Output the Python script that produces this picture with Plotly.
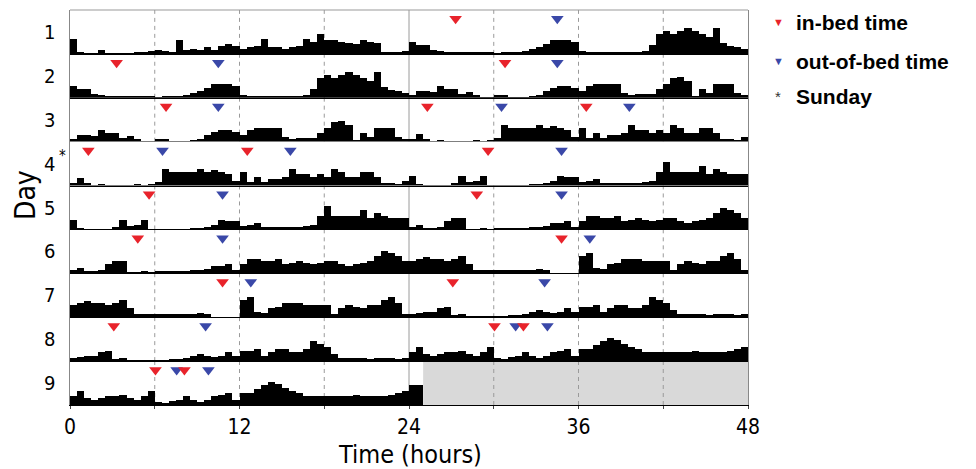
import plotly.graph_objects as go
from plotly.subplots import make_subplots

BIN = 0.5  # hours per activity bin

# Activity counts per 30-min bin (percent of row height)
day1 = [35, 3, 2, 2, 10, 2, 1, 1, 2, 3, 4, 7,
        8, 6, 4, 32, 9, 12, 9, 15, 9, 17, 22, 18,
        12, 15, 18, 35, 15, 15, 12, 15, 18, 35, 28, 45,
        32, 32, 28, 25, 22, 32, 28, 25, 4, 3, 3, 6]
day2 = [26, 20, 20, 10, 7, 3, 5, 3, 5, 5, 5, 3,
        2, 4, 4, 5, 7, 12, 15, 22, 32, 32, 32, 28,
        6, 3, 3, 4, 4, 3, 4, 4, 5, 7, 20, 45,
        52, 45, 52, 58, 52, 45, 38, 58, 25, 18, 15, 12]
day3 = [6, 15, 15, 13, 26, 20, 20, 10, 13, 6, 2, 2,
        7, 6, 2, 2, 2, 3, 7, 15, 22, 28, 28, 22,
        15, 28, 32, 32, 32, 32, 12, 6, 10, 10, 10, 20,
        32, 45, 48, 38, 3, 20, 12, 32, 32, 32, 12, 6]
day4 = [6, 18, 6, 2, 3, 2, 2, 2, 2, 3, 2, 3,
        10, 38, 32, 32, 32, 32, 38, 32, 36, 32, 26, 12,
        32, 10, 20, 10, 15, 15, 20, 38, 28, 26, 20, 28,
        20, 38, 32, 20, 20, 32, 32, 20, 6, 6, 4, 12]
day5 = [22, 3, 2, 2, 2, 2, 6, 22, 10, 12, 22, 2,
        1, 1, 1, 2, 2, 3, 4, 7, 12, 22, 20, 20,
        10, 12, 15, 7, 6, 6, 6, 6, 7, 10, 12, 32,
        55, 32, 32, 32, 32, 45, 26, 38, 32, 26, 26, 26]
day6 = [6, 12, 5, 3, 6, 20, 28, 26, 2, 2, 3, 2,
        3, 3, 3, 4, 4, 6, 6, 10, 15, 15, 20, 6,
        20, 32, 32, 28, 26, 32, 20, 22, 26, 22, 20, 22,
        26, 26, 20, 15, 20, 22, 28, 38, 50, 45, 38, 28]
day7 = [26, 32, 36, 32, 32, 28, 32, 38, 20, 7, 6, 6,
        7, 7, 6, 6, 7, 7, 10, 6, 0, 0, 0, 0,
        38, 45, 12, 10, 20, 22, 32, 32, 32, 28, 26, 26,
        26, 6, 20, 26, 22, 20, 26, 28, 38, 45, 32, 6]
day8 = [6, 10, 12, 12, 20, 22, 3, 6, 2, 1, 2, 1,
        2, 2, 3, 4, 7, 12, 15, 12, 10, 12, 20, 12,
        22, 22, 28, 12, 20, 26, 26, 20, 20, 28, 45, 38,
        32, 15, 6, 6, 7, 6, 5, 6, 7, 7, 5, 6]
day9 = [20, 32, 15, 12, 15, 20, 20, 22, 15, 12, 20, 32,
        6, 5, 10, 12, 20, 12, 6, 12, 20, 22, 26, 12,
        26, 28, 36, 45, 52, 48, 38, 32, 26, 20, 20, 20,
        20, 20, 20, 20, 22, 20, 20, 20, 20, 22, 26, 32]
day10 = [45, 45]  # recording ends shortly after midnight

days = [day1, day2, day3, day4, day5, day6, day7, day8, day9, day10]

in_bed_day = [2, 3, 4, 4, 5, 6, 7, 8, 9, 9]
in_bed_hour = [3.3, 6.8, 1.3, 12.55, 5.6, 4.8, 10.8, 3.1, 6.05, 8.1]
out_bed_day = [2, 3, 4, 4, 5, 6, 7, 8, 9, 9]
out_bed_hour = [10.5, 10.5, 6.55, 15.6, 10.8, 10.8, 12.8, 9.6, 7.55, 9.8]

row_labels = ["1", "2", "3", "4", "5", "6", "7", "8", "9"]
sunday_row = 4
tick_vals = [0, 6, 12, 18, 24, 30, 36, 42, 48]
tick_text = ["0", "", "12", "", "24", "", "36", "", "48"]
dashed_hours = [6, 12, 18, 30, 36, 42]

RED = "#e8232b"
BLUE = "#3a48a8"
NROWS = 9

# page has an 8px body margin: figure sits at (8, 8)
OFF = 8
PL, PR, PT, PB = 70, 748, 10, 405   # plot area in page pixels
W, H = 976 - OFF, 469 - OFF


def px(x):
    return (x - PL) / float(PR - PL)


def py(y):
    return (PB - y) / float(PB - PT)


fig = make_subplots(rows=NROWS, cols=1, shared_xaxes=True, vertical_spacing=0)

for r in range(1, NROWS + 1):
    left = days[r - 1]
    right = days[r]
    xs = [BIN * (i + 0.5) for i in range(len(left))] + [24 + BIN * (i + 0.5) for i in range(len(right))]
    ys = left + right
    fig.add_trace(go.Bar(x=xs, y=ys, width=BIN, marker=dict(color="black", line=dict(width=0)),
                         showlegend=False, hoverinfo="skip"), row=r, col=1)
    for dl, hl, col in [(out_bed_day, out_bed_hour, BLUE), (in_bed_day, in_bed_hour, RED)]:
        mx = [h for d, h in zip(dl, hl) if d == r] + [h + 24 for d, h in zip(dl, hl) if d == r + 1]
        if mx:
            fig.add_trace(go.Scatter(x=mx, y=[80] * len(mx), mode="markers",
                                     marker=dict(symbol="triangle-down", size=11, color=col, line=dict(width=0)),
                                     showlegend=False, hoverinfo="skip"), row=r, col=1)

# grey: no data in the last row
fig.add_shape(type="rect", x0=24 + len(day10) * BIN, x1=48, y0=0, y1=1, xref="x%d" % NROWS,
              yref="y%d domain" % NROWS, fillcolor="#d9d9d9", line=dict(width=0), layer="below")

for r in range(1, NROWS + 1):
    xr = "x" if r == 1 else "x%d" % r
    yr = "y domain" if r == 1 else "y%d domain" % r
    for h in dashed_hours:
        fig.add_shape(type="line", x0=h, x1=h, y0=0, y1=1, xref=xr, yref=yr,
                      line=dict(color="#9a9a9a", width=1, dash="4px,4px"), layer="below")
    fig.add_shape(type="line", x0=24, x1=24, y0=0, y1=1, xref=xr, yref=yr,
                  line=dict(color="#9a9a9a", width=1), layer="below")

fig.add_shape(type="line", x0=0, x1=1, y0=1, y1=1, xref="paper", yref="paper",
              line=dict(color="#999999", width=1))

FONT = "DejaVu Sans Condensed, DejaVu Sans"
for r in range(1, NROWS + 1):
    fig.update_xaxes(range=[0, 48], showgrid=False, zeroline=False, showline=True,
                     linecolor="black", linewidth=1, ticks="", showticklabels=False, row=r, col=1)
    fig.update_yaxes(range=[0, 100], showgrid=False, zeroline=False, showline=True, mirror=True,
                     linecolor="#888888", linewidth=1, showticklabels=False, ticks="", row=r, col=1)

fig.update_xaxes(tickvals=tick_vals, ticktext=tick_text, ticks="outside", ticklen=3, tickcolor="#444",
                 showticklabels=True, tickfont=dict(family=FONT, size=21, color="black"),
                 row=NROWS, col=1)

annotations = []
for r in range(1, NROWS + 1):
    yr = "y domain" if r == 1 else "y%d domain" % r
    annotations.append(dict(text=row_labels[r - 1], x=px(57), y=0.5, xref="paper", yref=yr,
                            xanchor="right", yanchor="middle", showarrow=False,
                            font=dict(family=FONT, size=20, color="black")))
annotations.append(dict(text="*", x=px(57), y=0.68, xref="paper",
                        yref="y%d domain" % sunday_row, xanchor="left", yanchor="middle", showarrow=False,
                        font=dict(family=FONT, size=15, color="black")))
annotations.append(dict(text="Day", x=px(25), y=py(195), xref="paper", yref="paper", textangle=-90,
                        xanchor="center", yanchor="middle", showarrow=False,
                        font=dict(family=FONT, size=28, color="black")))
annotations.append(dict(text="Time (hours)", x=px(410), y=py(454), xref="paper", yref="paper",
                        xanchor="center", yanchor="middle", showarrow=False, borderpad=0,
                        font=dict(family=FONT, size=25, color="black")))

LEG = "Liberation Sans, Arial, sans-serif"
leg_items = [("▼", RED, "in-bed time", 22), ("▼", BLUE, "out-of-bed time", 61), ("*", "#333", "Sunday", 97)]
for sym, col, txt, ly in leg_items:
    annotations.append(dict(text=sym, x=px(778), y=py(ly), xref="paper", yref="paper",
                            xanchor="center", yanchor="middle", showarrow=False,
                            font=dict(family=LEG, size=11 if sym != "*" else 15, color=col)))
    annotations.append(dict(text="<b>%s</b>" % txt, x=px(794), y=py(ly), xref="paper", yref="paper",
                            xanchor="left", yanchor="middle", showarrow=False,
                            font=dict(family=LEG, size=21, color="black")))

fig.update_layout(width=W, height=H,
                  margin=dict(l=PL - OFF, r=976 - PR, t=PT - OFF, b=469 - PB, pad=0),
                  paper_bgcolor="white", plot_bgcolor="white", bargap=0,
                  annotations=annotations, showlegend=False)

fig.write_html("out.html")
